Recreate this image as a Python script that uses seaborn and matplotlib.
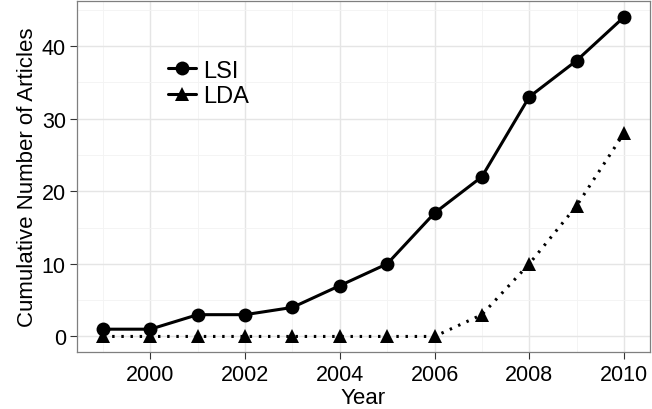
import numpy as np
import pandas as pd
import matplotlib.pyplot as plt
import seaborn as sns
from matplotlib.ticker import MultipleLocator

years = [1999, 2000, 2001, 2002, 2003, 2004, 2005, 2006, 2007, 2008, 2009, 2010]
lsi = [1, 1, 3, 3, 4, 7, 10, 17, 22, 33, 38, 44]
lda = [0, 0, 0, 0, 0, 0, 0, 0, 3, 10, 18, 28]

df = pd.concat([
    pd.DataFrame({"Year": years, "Articles": lsi, "Method": "LSI"}),
    pd.DataFrame({"Year": years, "Articles": lda, "Method": "LDA"}),
])

sns.set_style("whitegrid")
plt.rcParams['font.family'] = ['Liberation Sans', 'DejaVu Sans']
plt.rcParams['text.color'] = 'black'
plt.rcParams['axes.labelcolor'] = 'black'
plt.rcParams['xtick.color'] = 'black'
plt.rcParams['ytick.color'] = 'black'

fig, ax = plt.subplots(figsize=(6.52, 4.10), dpi=100)
fig.subplots_adjust(left=0.118, right=0.997, top=0.995, bottom=0.138)

sns.lineplot(data=df, x="Year", y="Articles", hue="Method", style="Method",
             markers={"LSI": "o", "LDA": "^"}, dashes={"LSI": "", "LDA": (0.8, 2.2)},
             palette={"LSI": "black", "LDA": "black"}, linewidth=2.2,
             markersize=10, markeredgewidth=0, ax=ax)

ax.set_xlim(1998.45, 2010.55)
ax.set_ylim(-2.2, 46.2)
ax.xaxis.set_major_locator(MultipleLocator(2))
ax.xaxis.set_minor_locator(MultipleLocator(1))
ax.yaxis.set_major_locator(MultipleLocator(10))
ax.yaxis.set_minor_locator(MultipleLocator(5))
ax.grid(which="major", color="#e5e5e5", linewidth=1.0)
ax.grid(which="minor", color="#f3f3f3", linewidth=0.6)
ax.set_axisbelow(True)
for s in ax.spines.values():
    s.set_color("#7f7f7f")
    s.set_linewidth(0.9)

ax.tick_params(which="major", length=5, color="#333333", labelsize=15.5, pad=3, left=True, bottom=True)
ax.tick_params(which="minor", length=0)
ax.set_xlabel("Year", fontsize=16, labelpad=1.5)
ax.set_ylabel("Cumulative Number of Articles", fontsize=16, labelpad=3)

leg = ax.legend(loc="upper left", bbox_to_anchor=(0.13, 0.88), fontsize=17, frameon=False,
                handlelength=1.2, handletextpad=0.3, labelspacing=0.15, borderpad=0.2)
for h in leg.legend_handles:
    h.set_linestyle("-")

plt.savefig("out.png", dpi=100)
